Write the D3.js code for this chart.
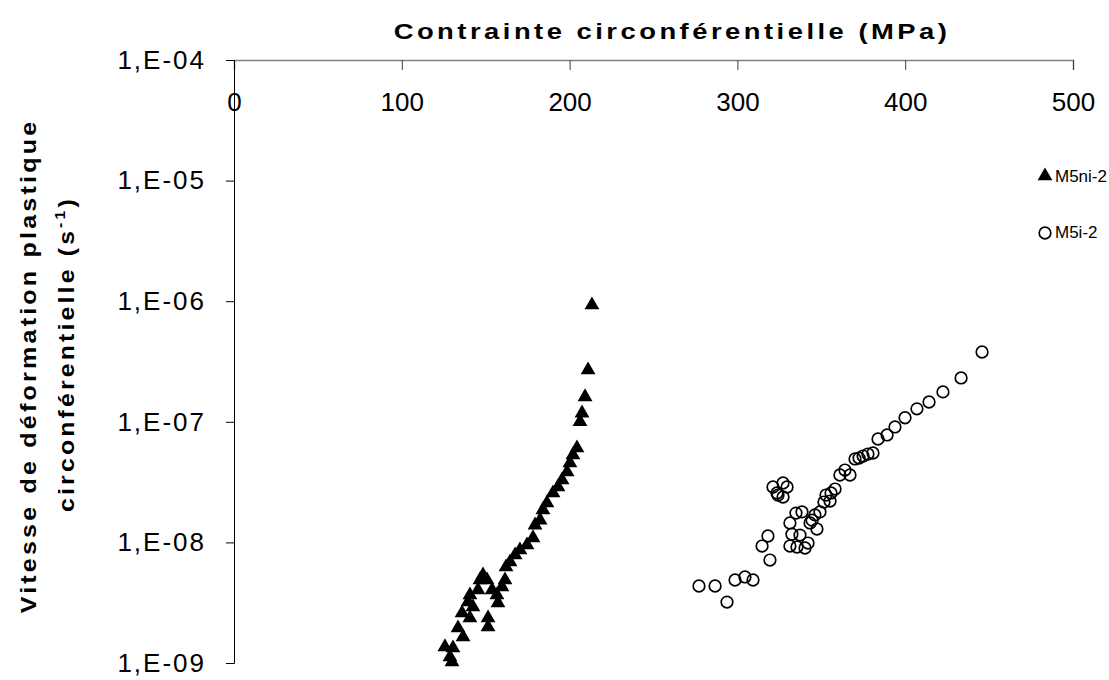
<!DOCTYPE html>
<html lang="fr">
<head>
<meta charset="UTF-8">
<script src="https://d3js.org/d3.v7.min.js"></script>
<title>Vitesse de déformation</title>
<style>
    body { margin: 0; background: white; }
    text { font-family: "Liberation Sans", Arial, sans-serif; fill: black; }
</style>
</head>
<body>
<div id="chart"></div>
<script>
    // M5ni-2 : contrainte (MPa) / vitesse (s-1)
    const ni2_stress = [213.3, 211.0, 209.2, 207.4, 206.2, 204.4, 202.0, 200.2, 198.5, 195.5,
        193.1, 190.1, 186.5, 184.1, 182.4, 179.4, 178.2, 174.6, 170.4, 167.5,
        164.5, 162.1, 161.5, 159.7, 148.4, 146.6, 150.8, 153.8, 156.7, 157.3,
        151.4, 151.4, 145.4, 140.6, 139.5, 142.4, 135.9, 140.6, 133.5, 136.5,
        125.7, 130.5, 128.7, 129.9];
    const ni2_rate = [9.3e-7, 2.69e-7, 1.61e-7, 1.18e-7, 1.0e-7, 6.07e-8, 5.3e-8, 4.55e-8, 3.84e-8, 3.29e-8,
        2.88e-8, 2.57e-8, 2.12e-8, 1.86e-8, 1.53e-8, 1.39e-8, 1.09e-8, 9.5e-9, 8.65e-9, 7.87e-9,
        6.88e-9, 6.25e-9, 4.88e-9, 4.27e-9, 5.37e-9, 4.88e-9, 4.88e-9, 4.03e-9, 3.66e-9, 3.15e-9,
        2.36e-9, 1.99e-9, 4.03e-9, 3.66e-9, 3.2e-9, 2.91e-9, 2.6e-9, 2.36e-9, 1.95e-9, 1.64e-9,
        1.36e-9, 1.33e-9, 1.12e-9, 1.02e-9];

    // M5i-2
    const i2_stress = [445.8, 433.3, 422.5, 414.2, 407.0, 399.9, 393.9, 389.2, 383.8, 380.8,
        377.8, 374.9, 372.5, 370.1, 367.1, 364.1, 361.1, 358.2, 355.8, 352.8,
        355.2, 351.6, 349.2, 346.2, 344.5, 347.4, 343.3, 338.5, 334.9, 331.3,
        332.5, 337.3, 331.3, 335.5, 340.3, 342.1, 327.2, 321.2, 329.6, 324.2,
        327.2, 323.6, 318.2, 314.7, 319.4, 309.3, 304.5, 298.6, 286.7, 277.1, 293.8];
    const i2_rate = [3.79e-7, 2.31e-7, 1.77e-7, 1.46e-7, 1.28e-7, 1.08e-7, 9.06e-8, 7.78e-8, 7.2e-8, 5.51e-8,
        5.4e-8, 5.2e-8, 5.0e-8, 4.92e-8, 3.62e-8, 3.98e-8, 3.62e-8, 2.77e-8, 2.57e-8, 2.47e-8,
        2.2e-8, 2.16e-8, 1.79e-8, 1.69e-8, 1.53e-8, 1.29e-8, 1.45e-8, 1.79e-8, 1.75e-8, 1.45e-8,
        1.17e-8, 1.15e-8, 9.33e-9, 9.15e-9, 8.99e-9, 9.88e-9, 3.11e-8, 2.88e-8, 2.88e-8, 2.47e-8,
        2.38e-8, 2.57e-8, 1.13e-8, 9.33e-9, 7.14e-9, 4.88e-9, 5.17e-9, 4.88e-9, 4.35e-9, 4.35e-9, 3.2e-9];

    const xTicks = [0, 100, 200, 300, 400, 500];
    const yTicks = [1e-4, 1e-5, 1e-6, 1e-7, 1e-8, 1e-9];
    const yTickLabels = ["1,E-04", "1,E-05", "1,E-06", "1,E-07", "1,E-08", "1,E-09"];
    const seriesNames = ["M5ni-2", "M5i-2"];

    const width = 1109, height = 680;
    const plot = { left: 234, right: 1073, top: 60, bottom: 663 };

    const svg = d3.select("#chart").append("svg")
        .attr("width", width)
        .attr("height", height);

    const x = d3.scaleLinear().domain([0, 500]).range([plot.left, plot.right]);
    const y = d3.scaleLog().domain([1e-4, 1e-9]).range([plot.top, plot.bottom]);

    // axe x en haut, graduations vers l'intérieur
    const xAxis = svg.append("g")
        .attr("transform", `translate(0,${plot.top})`)
        .call(d3.axisBottom(x).tickValues(xTicks).tickSize(10).tickPadding(23).tickFormat(d3.format("d")));
    xAxis.select(".domain").attr("stroke", "#808080").attr("stroke-width", 1.5);
    xAxis.selectAll(".tick line").attr("stroke", "#404040");
    xAxis.selectAll(".tick text")
        .attr("font-size", 26)
        .attr("font-family", "Liberation Sans, Arial, sans-serif")
        .attr("fill", "black");

    const yAxis = svg.append("g")
        .attr("transform", `translate(${plot.left},0)`)
        .call(d3.axisLeft(y).tickValues(yTicks).tickSize(8).tickPadding(20)
            .tickFormat((d, i) => yTickLabels[i]));
    yAxis.select(".domain").attr("stroke", "black").attr("stroke-width", 1);
    yAxis.selectAll(".tick text")
        .attr("font-size", 26)
        .attr("letter-spacing", "2px")
        .attr("font-family", "Liberation Sans, Arial, sans-serif")
        .attr("fill", "black");

    // titres : texte un peu élargi comme l'export Excel
    function wideText(cx, cy, angle, target) {
        const g = svg.append("g").attr("transform", `translate(${cx},${cy}) rotate(${angle})`);
        const t = g.append("text")
            .attr("text-anchor", "middle")
            .attr("font-size", 22).attr("font-weight", "bold")
            .attr("letter-spacing", "2.8px");
        return { g, t, fit: () => {
            const w = t.node().getComputedTextLength();
            t.attr("transform", `scale(${target / w},1)`);
        } };
    }

    const title = wideText(672, 39, 0, 557);
    title.t.text("Contrainte circonférentielle (MPa)");
    title.fit();

    const yt1 = wideText(36, 366, -90, 495);
    yt1.t.text("Vitesse de déformation plastique");
    yt1.fit();

    const yt2 = wideText(74, 354, -90, 316);
    yt2.t.append("tspan").text("circonférentielle (s");
    yt2.t.append("tspan").attr("dy", -9).attr("font-size", 14).text("-1");
    yt2.t.append("tspan").attr("dy", 9).text(")");
    yt2.fit();

    const tri = d3.symbol().type(d3.symbolTriangle).size(95);

    svg.append("g").selectAll("path")
        .data(ni2_stress.map((s, i) => [s, ni2_rate[i]]))
        .enter().append("path")
        .attr("d", tri)
        .attr("transform", d => `translate(${x(d[0])},${y(d[1])})`)
        .attr("fill", "black");

    svg.append("g").selectAll("circle")
        .data(i2_stress.map((s, i) => [s, i2_rate[i]]))
        .enter().append("circle")
        .attr("cx", d => x(d[0]))
        .attr("cy", d => y(d[1]))
        .attr("r", 5.8)
        .attr("fill", "none")
        .attr("stroke", "black")
        .attr("stroke-width", 1.7);

    // légende
    const legend = svg.append("g");
    legend.append("path").attr("d", tri).attr("transform", "translate(1045,176)").attr("fill", "black");
    legend.append("circle").attr("cx", 1045).attr("cy", 233).attr("r", 5.8)
        .attr("fill", "none").attr("stroke", "black").attr("stroke-width", 1.7);
    legend.selectAll("text.leg")
        .data(seriesNames)
        .enter().append("text")
        .attr("x", 1055)
        .attr("y", (d, i) => i === 0 ? 176 : 232)
        .attr("dy", "0.35em")
        .attr("font-size", 17)
        .text(d => d);
</script>
</body>
</html>
